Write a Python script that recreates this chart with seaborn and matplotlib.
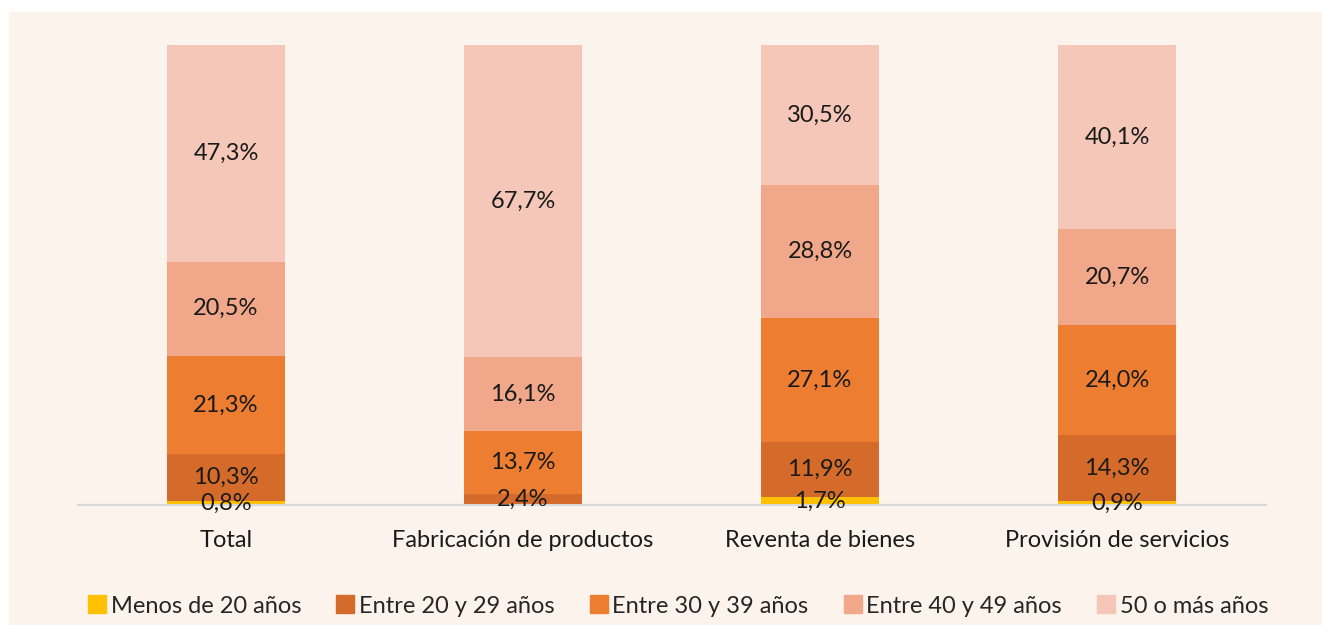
import seaborn as sns
import matplotlib.pyplot as plt
import matplotlib.patches as mpatches
import pandas as pd
import numpy as np

# Datos (porcentajes)
categorias = ['Total', 'Fabricación de productos', 'Reventa de bienes', 'Provisión de servicios']
grupos = ['Menos de 20 años', 'Entre 20 y 29 años', 'Entre 30 y 39 años', 'Entre 40 y 49 años', '50 o más años']
menos_20 = [0.8, 0.0, 1.7, 0.9]
entre_20_29 = [10.3, 2.4, 11.9, 14.3]
entre_30_39 = [21.3, 13.7, 27.1, 24.0]
entre_40_49 = [20.5, 16.1, 28.8, 20.7]
mas_50 = [47.3, 67.7, 30.5, 40.1]

colores = ['#FFC000', '#D46B2A', '#ED7D31', '#F0A78A', '#F4C7B8']
fondo = '#FDF3ED'

sns.set_style('white')
plt.rcParams['font.family'] = ['Lato', 'DejaVu Sans']

df = pd.DataFrame({'categoria': categorias,
                   grupos[0]: menos_20, grupos[1]: entre_20_29, grupos[2]: entre_30_39,
                   grupos[3]: entre_40_49, grupos[4]: mas_50})

valores = df[grupos].values
acumulado = np.cumsum(valores, axis=1)

fig = plt.figure(figsize=(13.22, 6.25), dpi=100)
fig.patch.set_facecolor('white')
fig.patches.append(mpatches.Rectangle((9 / 1322, 0), 1, 613 / 625, transform=fig.transFigure,
                                      facecolor=fondo, edgecolor='none', zorder=-10))
ax = fig.add_axes([77.5 / 1322, 120 / 625, 1188 / 1322, 460 / 625])
ax.set_facecolor(fondo)

# Barras apiladas: se dibuja el acumulado de mayor a menor
for j in range(len(grupos) - 1, -1, -1):
    tmp = pd.DataFrame({'categoria': categorias, 'valor': acumulado[:, j]})
    sns.barplot(data=tmp, x='categoria', y='valor', color=colores[j], width=0.4,
                saturation=1, linewidth=0, ax=ax)

# Etiquetas de cada segmento
for i in range(len(categorias)):
    for j in range(len(grupos)):
        v = valores[i, j]
        if v <= 0:
            continue
        y = acumulado[i, j] - v / 2
        ax.text(i, y, f'{v:.1f}%'.replace('.', ','), ha='center', va='center',
                fontsize=17, color='#1a1a1a')

ax.set_ylim(0, 100)
ax.set_xlim(-0.5, 3.5)
ax.set_xlabel('')
ax.set_ylabel('')
ax.set_yticks([])
for s in ['top', 'right', 'left']:
    ax.spines[s].set_visible(False)
ax.spines['bottom'].set_color('#D9D9D9')
ax.spines['bottom'].set_linewidth(1.5)
ax.tick_params(axis='x', length=0, pad=18, labelsize=17, labelcolor='#1a1a1a')

handles = [mpatches.Patch(color=c, label=g) for c, g in zip(colores, grupos)]
fig.legend(handles=handles, loc='center', bbox_to_anchor=(0.513, 19 / 625), ncol=5,
           frameon=False, fontsize=17, handlelength=0.75, handleheight=0.8,
           handletextpad=0.2, columnspacing=1.5)

fig.savefig('out.png', dpi=100, facecolor=fig.get_facecolor())
